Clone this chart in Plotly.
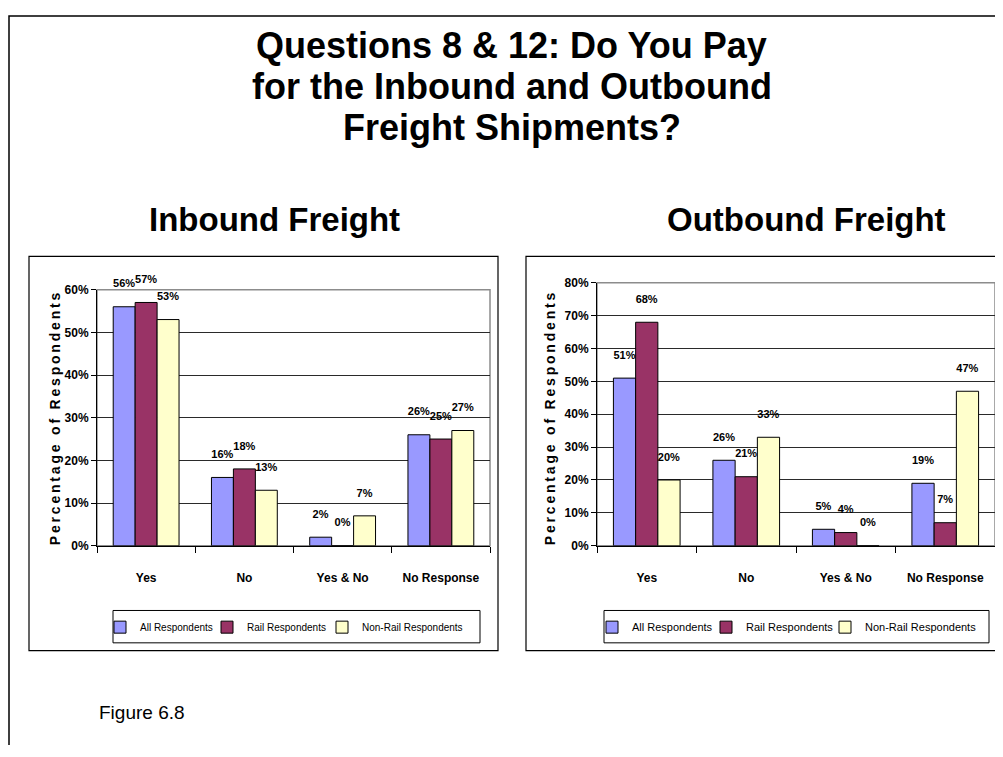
import plotly.graph_objects as go

# Data
categories = ["Yes", "No", "Yes & No", "No Response"]
series_names = ["All Respondents", "Rail Respondents", "Non-Rail Respondents"]
series_colors = ["#9999FF", "#993366", "#FFFFCC"]

inbound_all = [56, 16, 2, 26]
inbound_rail = [57, 18, 0, 25]
inbound_nonrail = [53, 13, 7, 27]

outbound_all = [51, 26, 5, 19]
outbound_rail = [68, 21, 4, 7]
outbound_nonrail = [20, 33, 0, 47]

# page is 1003x757, the html body adds an 8px margin around the figure
W, H = 987, 737
FONT = "Liberation Sans, Arial, sans-serif"


def px(x):
    # page x -> paper fraction
    return (x - 8) / W


def py(y):
    # page y -> paper fraction
    return 1 - (y - 8) / H


fig = go.Figure()

# Bars: left chart (inbound), right chart (outbound)
left_widths = [62, 70, None]
right_widths = [69, 74, None]
for vals, name, color, lw in zip([inbound_all, inbound_rail, inbound_nonrail],
                                 series_names, series_colors, left_widths):
    fig.add_trace(go.Bar(
        x=categories, y=vals, name=name,
        marker=dict(color=color, line=dict(color="black", width=1)),
        texttemplate="%{y}<br> ", textposition="outside", cliponaxis=False,
        constraintext="none",
        textfont=dict(family=FONT, size=11, color="black", weight="bold"),
        xaxis="x", yaxis="y", legend="legend", legendwidth=lw,
    ))

for vals, name, color, lw in zip([outbound_all, outbound_rail, outbound_nonrail],
                                 series_names, series_colors, right_widths):
    fig.add_trace(go.Bar(
        x=categories, y=vals, name=name,
        marker=dict(color=color, line=dict(color="black", width=1)),
        texttemplate="%{y}<br> ", textposition="outside", cliponaxis=False,
        constraintext="none",
        textfont=dict(family=FONT, size=11, color="black", weight="bold"),
        xaxis="x2", yaxis="y2", legend="legend2", legendwidth=lw,
    ))

xcommon = dict(
    showgrid=False, showline=True, linecolor="black", linewidth=1,
    ticks="outside", tickson="boundaries", ticklen=6, tickcolor="black",
    ticklabelstandoff=21,
    tickfont=dict(family=FONT, size=12, color="black", weight="bold"),
)
ycommon = dict(
    showgrid=True, gridcolor="#2a2a2a", gridwidth=1,
    showline=True, linecolor="black", linewidth=1,
    ticks="outside", ticklen=5, tickcolor="black",
    ticksuffix="%", dtick=10,
    tickfont=dict(family=FONT, size=12, color="black", weight="bold"),
    zeroline=False,
)

legend_common = dict(
    orientation="h", yanchor="middle", xanchor="left",
    borderwidth=0, bgcolor="rgba(0,0,0,0)", itemwidth=30,
)

fig.update_layout(
    width=W, height=H,
    margin=dict(l=0, r=0, t=0, b=0),
    paper_bgcolor="white", plot_bgcolor="white",
    font=dict(family=FONT, color="black"),
    barmode="group", bargap=0.33, bargroupgap=0,
    xaxis=dict(domain=[px(97), px(490)], anchor="y", **xcommon),
    yaxis=dict(domain=[py(549), py(288)], anchor="x", range=[0, 60], **ycommon),
    xaxis2=dict(domain=[px(597), px(995)], anchor="y2", **xcommon),
    yaxis2=dict(domain=[py(549), py(281)], anchor="x2", range=[0, 80], **ycommon),
    legend=dict(x=px(100), y=py(632),
                font=dict(family=FONT, size=10, color="black"), **legend_common),
    legend2=dict(x=px(592), y=py(632),
                 font=dict(family=FONT, size=11, color="black"), **legend_common),
    showlegend=True,
)

# Frames and legend boxes
shapes = [
    dict(type="path", xref="paper", yref="paper",
         path=f"M {px(9)},{py(765)} L {px(9)},{py(9)} L {px(1010)},{py(9)}",
         line=dict(color="black", width=1.5)),
    dict(type="rect", xref="paper", yref="paper",
         x0=px(29), y0=py(656), x1=px(498), y1=py(254),
         line=dict(color="black", width=1.2)),
    dict(type="rect", xref="paper", yref="paper",
         x0=px(526), y0=py(656), x1=px(1012), y1=py(254),
         line=dict(color="black", width=1.2)),
    dict(type="rect", xref="paper", yref="paper",
         x0=px(113), y0=py(648), x1=px(480), y1=py(615),
         line=dict(color="black", width=1)),
    dict(type="rect", xref="paper", yref="paper",
         x0=px(604), y0=py(648), x1=px(989), y1=py(615),
         line=dict(color="black", width=1)),
    dict(type="rect", xref="x domain", yref="y domain", x0=0, y0=0, x1=1, y1=1,
         line=dict(color="#8c8c8c", width=1.5), layer="below"),
    dict(type="rect", xref="x2 domain", yref="y2 domain", x0=0, y0=0, x1=1, y1=1,
         line=dict(color="#8c8c8c", width=1.5), layer="below"),
]
fig.update_layout(shapes=shapes)


def spaced(text):
    return "\u2009 \u2009".join("\u2009".join(w) for w in text.split(" "))


title_lines = [
    "Questions 8 & 12: Do You Pay",
    "for the Inbound and Outbound",
    "Freight Shipments?",
]
title_y = [45, 87, 129]
for line, yc in zip(title_lines, title_y):
    fig.add_annotation(
        text=line, xref="paper", yref="paper", x=px(512), y=py(yc - 6),
        xanchor="center", yanchor="middle", showarrow=False,
        font=dict(family=FONT, size=36, color="black", weight="bold"),
    )

fig.add_annotation(
    text="Inbound Freight", xref="paper", yref="paper", x=px(274), y=py(216),
    xanchor="center", yanchor="middle", showarrow=False,
    font=dict(family=FONT, size=33, color="black", weight="bold"),
)
fig.add_annotation(
    text="Outbound Freight", xref="paper", yref="paper", x=px(806), y=py(216),
    xanchor="center", yanchor="middle", showarrow=False,
    font=dict(family=FONT, size=33, color="black", weight="bold"),
)

for xc in [55, 550]:
    fig.add_annotation(
        text=spaced("Percentage of Respondents"), xref="paper", yref="paper",
        x=px(xc), y=py(420), textangle=-90,
        xanchor="center", yanchor="middle", showarrow=False,
        font=dict(family=FONT, size=14, color="black", weight="bold"),
    )

fig.add_annotation(
    text="Figure 6.8", xref="paper", yref="paper", x=px(97), y=py(719),
    xanchor="left", yanchor="middle", showarrow=False,
    font=dict(family=FONT, size=19, color="black"),
)

fig.write_html("out.html")
